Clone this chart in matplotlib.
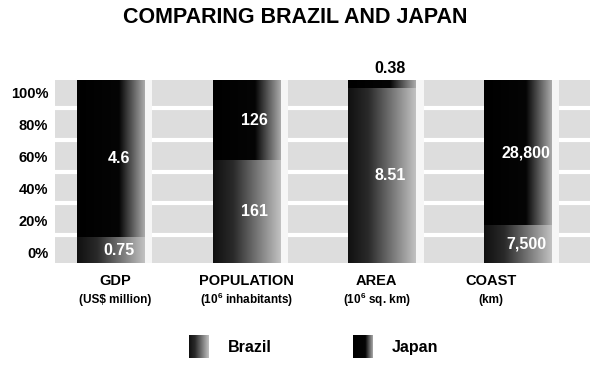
import numpy as np
import matplotlib
matplotlib.use("Agg")
import matplotlib.pyplot as plt
from matplotlib.colors import LinearSegmentedColormap

plt.rcParams['font.family'] = ['Liberation Sans', 'DejaVu Sans']
plt.rcParams['font.weight'] = 'bold'
plt.rcParams['mathtext.fontset'] = 'custom'
plt.rcParams['mathtext.rm'] = 'Liberation Sans:bold'
plt.rcParams['mathtext.bf'] = 'Liberation Sans:bold'

categories = ["GDP", "POPULATION", "AREA", "COAST"]
units = ["(US$ million)", r"(10$^{6}$ inhabitants)", r"(10$^{6}$ sq. km)", "(km)"]
brazil = [0.75, 161, 8.51, 7500]
japan = [4.6, 126, 0.38, 28800]
brazil_txt = ["0.75", "161", "8.51", "7,500"]
japan_txt = ["4.6", "126", "0.38", "28,800"]
pct_labels = ["0%", "20%", "40%", "60%", "80%", "100%"]

b = np.array(brazil, dtype=float)
j = np.array(japan, dtype=float)
tot = b + j
bf = b / tot
jf = j / tot

cm_jap = LinearSegmentedColormap.from_list("jap", [(0, "#000000"), (0.62, "#050505"), (1, "#ababab")])
cm_bra = LinearSegmentedColormap.from_list("bra", [(0, "#101010"), (0.3, "#2a2a2a"), (1, "#c2c2c2")])
grad = np.linspace(0, 1, 256).reshape(1, -1)

fig = plt.figure(figsize=(6, 3.67), dpi=100)
ax = fig.add_axes([0.092, 0.283, 0.891, 0.499])
ax.set_facecolor("#dddddd")

x = np.arange(len(categories))
w = 0.5

# white stripes of the background
for yy in [0.153, 0.328, 0.497, 0.672, 0.847]:
    ax.axhline(yy, color="white", lw=3, zorder=0.5)
for xi in x:
    ax.axvspan(xi + w / 2, xi + w / 2 + 0.055, color="#f6f6f6", lw=0, zorder=0.6)

bb = ax.bar(x, bf, w, color="none", lw=0, zorder=2)
jb = ax.bar(x, jf, w, bottom=bf, color="none", lw=0, zorder=2)
for bars, cm in [(bb, cm_bra), (jb, cm_jap)]:
    for p in bars:
        x0, y0 = p.get_x(), p.get_y()
        im = ax.imshow(grad, cmap=cm, aspect="auto", zorder=2,
                       extent=(x0, x0 + p.get_width(), y0, y0 + p.get_height()))
        im.set_clip_path(p)

for i in range(len(categories)):
    ax.text(x[i] + 0.06, bf[i] / 2, brazil_txt[i], color="white", ha="center", va="center",
            fontsize=11.5, fontweight="bold", zorder=3)
    if jf[i] > 0.1:
        ax.text(x[i] + 0.06, bf[i] + jf[i] / 2, japan_txt[i], color="white", ha="center",
                va="center", fontsize=11.5, fontweight="bold", zorder=3)
    else:
        ax.text(x[i] + 0.06, 1.02, japan_txt[i], color="black", ha="center", va="bottom",
                fontsize=11.5, fontweight="bold", zorder=3, clip_on=False)

lab_x = [0.03, 0.0, -0.04, -0.2]
for i in range(len(categories)):
    ax.text(x[i] + lab_x[i], -0.1, categories[i], ha="center", va="center", fontsize=10.5,
            fontweight="bold", clip_on=False)
    ax.text(x[i] + lab_x[i], -0.2, units[i], ha="center", va="center", fontsize=8.5,
            fontweight="bold", clip_on=False)

ax.set_xlim(-0.41, 3.53)
ax.set_ylim(0, 1)
ax.set_xticks([])
ax.set_yticks(np.linspace(0.06, 0.93, 6))
ax.set_yticklabels(pct_labels, fontsize=10.5, fontweight="bold")
ax.tick_params(axis="y", length=0, pad=5)
for s in ax.spines.values():
    s.set_visible(False)

fig.text(0.492, 0.952, "COMPARING BRAZIL AND JAPAN", ha="center", va="center",
         fontsize=15.5, fontweight="bold")

# legend
for (lx, cm, name) in [(0.315, cm_bra, "Brazil"), (0.588, cm_jap, "Japan")]:
    la = fig.add_axes([lx, 0.025, 0.033, 0.062])
    la.imshow(grad, cmap=cm, aspect="auto")
    la.axis("off")
    fig.text(lx + 0.065, 0.052, name, ha="left", va="center", fontsize=11.5, fontweight="bold")

fig.savefig("out.png", dpi=100)
